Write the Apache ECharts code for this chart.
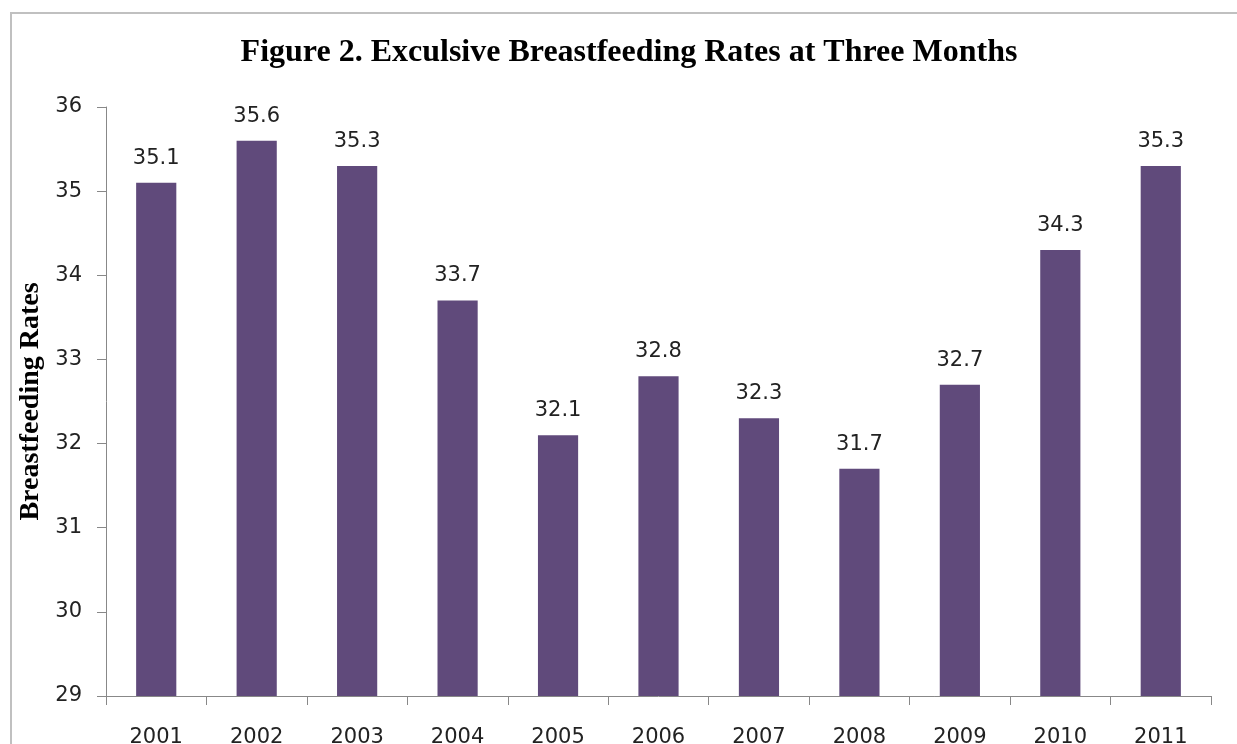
<!DOCTYPE html>
<html>
<head>
<meta charset="utf-8">
<script src="https://cdn.jsdelivr.net/npm/echarts@6/dist/echarts.min.js"></script>
<style>
html,body{margin:0;padding:0;background:#fff;}
#chart{width:1237px;height:744px;}
</style>
</head>
<body>
<div id="chart"></div>
<script>
const years = ['2001','2002','2003','2004','2005','2006','2007','2008','2009','2010','2011'];
const rates = [35.1, 35.6, 35.3, 33.7, 32.1, 32.8, 32.3, 31.7, 32.7, 34.3, 35.3];
const yTicks = [29, 30, 31, 32, 33, 34, 35, 36];

const chart = echarts.init(document.getElementById('chart'), null, {renderer: 'canvas'});
const labelFont = 'DejaVu Sans';
chart.setOption({
  animation: false,
  backgroundColor: '#fff',
  graphic: [{
    type: 'rect',
    shape: {x: 11, y: 13, width: 1400, height: 900},
    style: {fill: 'none', stroke: '#c0c0c0', lineWidth: 2},
    silent: true
  }],
  title: {
    text: 'Figure 2. Exculsive Breastfeeding Rates at Three Months',
    left: 624,
    top: 32,
    textAlign: 'center',
    textStyle: {fontFamily: 'Liberation Serif', fontWeight: 'bold', fontSize: 32, color: '#000'}
  },
  grid: {left: 106, right: 26, top: 107, bottom: 48, containLabel: false, outerBoundsMode: 'none'},
  xAxis: {
    type: 'category',
    data: years,
    axisLine: {show: true, lineStyle: {color: '#888', width: 1}},
    axisTick: {show: true, length: 9, lineStyle: {color: '#888'}},
    axisLabel: {margin: 31, fontFamily: labelFont, fontSize: 21, color: '#222'}
  },
  yAxis: {
    type: 'value',
    min: yTicks[0],
    max: yTicks[yTicks.length - 1],
    interval: 1,
    name: 'Breastfeeding Rates',
    nameLocation: 'middle',
    nameRotate: 90,
    nameGap: 60,
    nameTextStyle: {fontFamily: 'Liberation Serif', fontWeight: 'bold', fontSize: 28, color: '#000'},
    axisLine: {show: true, lineStyle: {color: '#888', width: 1}},
    axisTick: {show: true, length: 9, lineStyle: {color: '#888'}},
    splitLine: {show: false},
    axisLabel: {margin: 24, fontFamily: labelFont, fontSize: 21, color: '#222'}
  },
  series: [{
    type: 'bar',
    data: rates,
    barWidth: '40%',
    itemStyle: {color: '#604a7b'},
    label: {
      show: true,
      position: 'top',
      distance: 14,
      fontFamily: labelFont,
      fontSize: 21,
      color: '#222',
      formatter: p => p.value.toFixed(1)
    }
  }]
});
</script>
</body>
</html>
